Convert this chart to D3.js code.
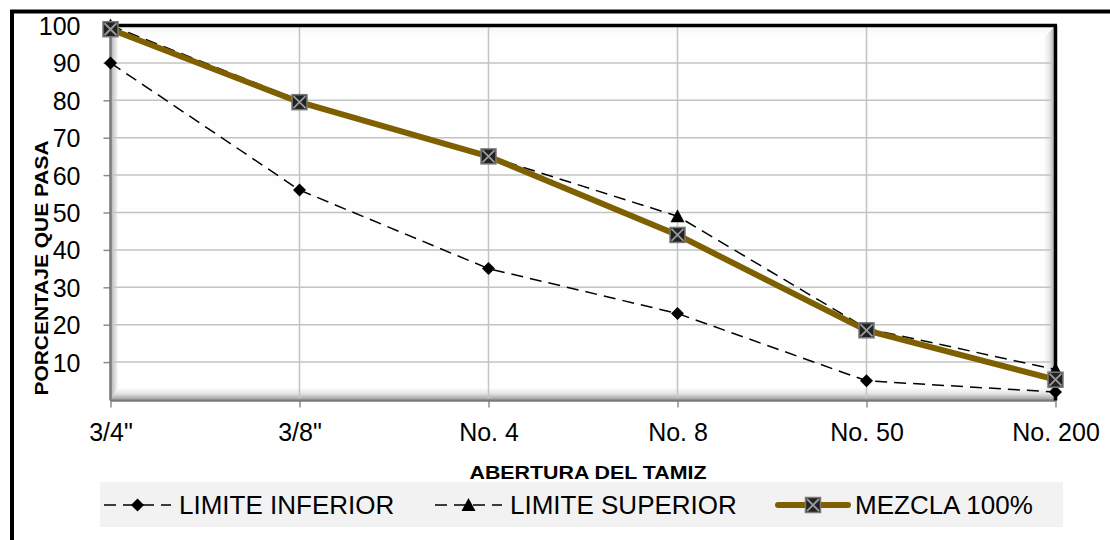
<!DOCTYPE html>
<html><head><meta charset="utf-8">
<script src="https://cdn.jsdelivr.net/npm/d3@7"></script>
<style>html,body{margin:0;padding:0;background:#fff;}svg{display:block;}text{font-family:"Liberation Sans",Arial,sans-serif;fill:#000;}</style>
</head><body>
<svg id="c" width="1110" height="540"></svg>
<script>
const categories = ['3/4"', '3/8"', 'No. 4', 'No. 8', 'No. 50', 'No. 200'];
const limiteInferior = [90, 56, 35, 23, 5, 2];
const limiteSuperior = [100, 80, 65, 49, 19, 8];
const mezcla = [99, 79.5, 65, 44, 18.5, 5.3];
const yTicks = [10, 20, 30, 40, 50, 60, 70, 80, 90, 100];
const seriesNames = ["LIMITE INFERIOR", "LIMITE SUPERIOR", "MEZCLA 100%"];
const xTitle = "ABERTURA DEL TAMIZ";
const yTitle = "PORCENTAJE QUE PASA";

const svg = d3.select("#c");
const X0 = 110.5, X1 = 1055.5, Y0 = 399.5, Y1 = 25.5;
const x = d3.scalePoint().domain(categories).range([X0, X1]).padding(0);
const y = d3.scaleLinear().domain([0, 100]).range([Y0, Y1]);

const defs = svg.append("defs");
function grad(id, x1, y1, x2, y2, stops) {
  const g = defs.append("linearGradient").attr("id", id)
    .attr("x1", x1).attr("y1", y1).attr("x2", x2).attr("y2", y2);
  stops.forEach(s => g.append("stop").attr("offset", s[0]).attr("stop-color", s[1]));
}
grad("gR", 0, 0, 1, 0, [[0, "#ffffff"], [0.5, "#e6e6e6"], [1, "#9a9a9a"]]);
grad("gB", 0, 0, 0, 1, [[0, "#ffffff"], [0.5, "#e4e4e4"], [1, "#a0a0a0"]]);
grad("gL", 0, 0, 1, 0, [[0, "#b0b0b0"], [1, "#ffffff"]]);
grad("gT", 0, 1, 0, 0, [[0, "#ffffff"], [1, "#f4f4f4"]]);

// outer frame
svg.append("rect").attr("x", 12).attr("y", 11.5).attr("width", 1200).attr("height", 700)
  .attr("fill", "#fff").attr("stroke", "#000").attr("stroke-width", 4);

// plot background
svg.append("rect").attr("x", X0).attr("y", Y1).attr("width", X1 - X0).attr("height", Y0 - Y1).attr("fill", "#fefefe");
// bevel
const bw = 12, bl = 8, bt = 12, bb = 12;
svg.append("polygon").attr("points", `${X1},${Y1} ${X1},${Y0} ${X1-bw},${Y0-bb} ${X1-bw},${Y1+bt}`).attr("fill", "url(#gR)");
svg.append("polygon").attr("points", `${X0},${Y0} ${X1},${Y0} ${X1-bw},${Y0-bb} ${X0+bl},${Y0-bb}`).attr("fill", "url(#gB)");
svg.append("polygon").attr("points", `${X0},${Y1} ${X0},${Y0} ${X0+bl},${Y0-bb} ${X0+bl},${Y1+bt}`).attr("fill", "url(#gL)");
svg.append("polygon").attr("points", `${X0},${Y1} ${X1},${Y1} ${X1-bw},${Y1+bt} ${X0+bl},${Y1+bt}`).attr("fill", "url(#gT)");

// grid
svg.append("g").selectAll("line").data(yTicks).join("line")
  .attr("x1", X0).attr("x2", X1).attr("y1", d => y(d)).attr("y2", d => y(d))
  .attr("stroke", "#c3c3c3").attr("stroke-width", 1.5);
svg.append("g").selectAll("line").data(categories).join("line")
  .attr("x1", d => x(d)).attr("x2", d => x(d)).attr("y1", Y1).attr("y2", Y0)
  .attr("stroke", "#c3c3c3").attr("stroke-width", 1.5);

// axes
const yAxis = d3.axisLeft(y).tickValues(yTicks).tickSize(7).tickFormat(d3.format("d"));
const gy = svg.append("g").attr("transform", `translate(${X0},0)`).call(yAxis);
gy.select(".domain").remove();
gy.selectAll(".tick line").attr("stroke", "#8c8c8c").attr("stroke-width", 1.5);
gy.selectAll(".tick text").attr("x", -30).attr("dy", "0.36em").attr("font-size", 25)
  .attr("font-family", '"Liberation Sans",Arial,sans-serif').attr("fill", "#000");

const xAxis = d3.axisBottom(x).tickSize(8).tickPadding(24);
const gx = svg.append("g").attr("transform", `translate(0,${Y0})`).call(xAxis);
gx.select(".domain").remove();
gx.selectAll(".tick line").attr("stroke", "#8c8c8c").attr("stroke-width", 1.5);
gx.selectAll(".tick text").attr("y", 41).attr("dy", 0).attr("font-size", 25)
  .attr("font-family", '"Liberation Sans",Arial,sans-serif').attr("fill", "#000");

// axis lines
svg.append("line").attr("x1", X0).attr("x2", X0).attr("y1", Y1).attr("y2", Y0 + 1).attr("stroke", "#7a7a7a").attr("stroke-width", 2.5);
svg.append("line").attr("x1", X0).attr("x2", X1).attr("y1", Y0 + 1).attr("y2", Y0 + 1).attr("stroke", "#7a7a7a").attr("stroke-width", 2.5);
svg.append("line").attr("x1", X0).attr("x2", X1 + 1.5).attr("y1", Y1).attr("y2", Y1).attr("stroke", "#000").attr("stroke-width", 3.5);
svg.append("line").attr("x1", X1).attr("x2", X1).attr("y1", Y1).attr("y2", Y0 + 1).attr("stroke", "#000").attr("stroke-width", 3.5);

// titles
svg.append("text").attr("x", 588).attr("y", 479).attr("text-anchor", "middle")
  .attr("font-size", 19).attr("font-weight", "bold").attr("textLength", 237).attr("lengthAdjust", "spacingAndGlyphs").text(xTitle);
svg.append("text").attr("transform", "translate(48,268) rotate(-90)").attr("text-anchor", "middle")
  .attr("font-size", 18).attr("font-weight", "bold").attr("textLength", 255).attr("lengthAdjust", "spacingAndGlyphs").text(yTitle);

// markers
function diamond(g, cx, cy, s) {
  g.append("path").attr("d", `M${cx},${cy-s}L${cx+s},${cy}L${cx},${cy+s}L${cx-s},${cy}Z`).attr("fill", "#000");
}
function triangle(g, cx, cy, s) {
  g.append("path").attr("d", `M${cx},${cy-s}L${cx+s},${cy+s*0.85}L${cx-s},${cy+s*0.85}Z`).attr("fill", "#000");
}
function boxX(g, cx, cy, s) {
  g.append("rect").attr("x", cx - s).attr("y", cy - s).attr("width", 2*s).attr("height", 2*s)
    .attr("fill", "#222").attr("stroke", "#7a7a7a").attr("stroke-width", 1.5);
  g.append("path").attr("d", `M${cx-s+1.5},${cy-s+1.5}L${cx+s-1.5},${cy+s-1.5}M${cx+s-1.5},${cy-s+1.5}L${cx-s+1.5},${cy+s-1.5}`)
    .attr("stroke", "#9a9a9a").attr("stroke-width", 1.8);
}

const line = d3.line().x((d, i) => x(categories[i])).y(d => y(d));
const dash = "12,7";

const gInf = svg.append("g");
gInf.append("path").attr("d", line(limiteInferior)).attr("fill", "none").attr("stroke", "#000").attr("stroke-width", 1.5).attr("stroke-dasharray", dash);
limiteInferior.forEach((v, i) => diamond(gInf, x(categories[i]), y(v), 6.5));

const gSup = svg.append("g");
gSup.append("path").attr("d", line(limiteSuperior)).attr("fill", "none").attr("stroke", "#000").attr("stroke-width", 1.5).attr("stroke-dasharray", dash);
limiteSuperior.forEach((v, i) => triangle(gSup, x(categories[i]), y(v), 7));

const gMez = svg.append("g");
gMez.append("path").attr("d", line(mezcla)).attr("fill", "none").attr("stroke", "#7f6000").attr("stroke-width", 6).attr("stroke-linejoin", "round");
mezcla.forEach((v, i) => boxX(gMez, x(categories[i]), y(v), 7.5));

// legend
const lg = svg.append("g");
lg.append("rect").attr("x", 100).attr("y", 482).attr("width", 963).attr("height", 45).attr("fill", "#f2f2f2");
const ly = 505;
const entries = [
  {x0: 104, x1: 171, tx: 179, type: "inf"},
  {x0: 435, x1: 502, tx: 510, type: "sup"},
  {x0: 778, x1: 848, tx: 855, type: "mez"}
];
entries.forEach((e, i) => {
  const cx = (e.x0 + e.x1) / 2;
  if (e.type === "mez") {
    lg.append("line").attr("x1", e.x0).attr("x2", e.x1).attr("y1", ly).attr("y2", ly)
      .attr("stroke", "#7f6000").attr("stroke-width", 6).attr("stroke-linecap", "round");
    boxX(lg, cx, ly, 7.5);
  } else {
    lg.append("line").attr("x1", e.x0).attr("x2", e.x1).attr("y1", ly).attr("y2", ly)
      .attr("stroke", "#000").attr("stroke-width", 1.5).attr("stroke-dasharray", dash);
    if (e.type === "inf") diamond(lg, cx, ly, 6.5); else triangle(lg, cx, ly, 7);
  }
  lg.append("text").attr("x", e.tx).attr("y", 514).attr("font-size", 26).text(seriesNames[i]);
});
</script>
</body></html>
